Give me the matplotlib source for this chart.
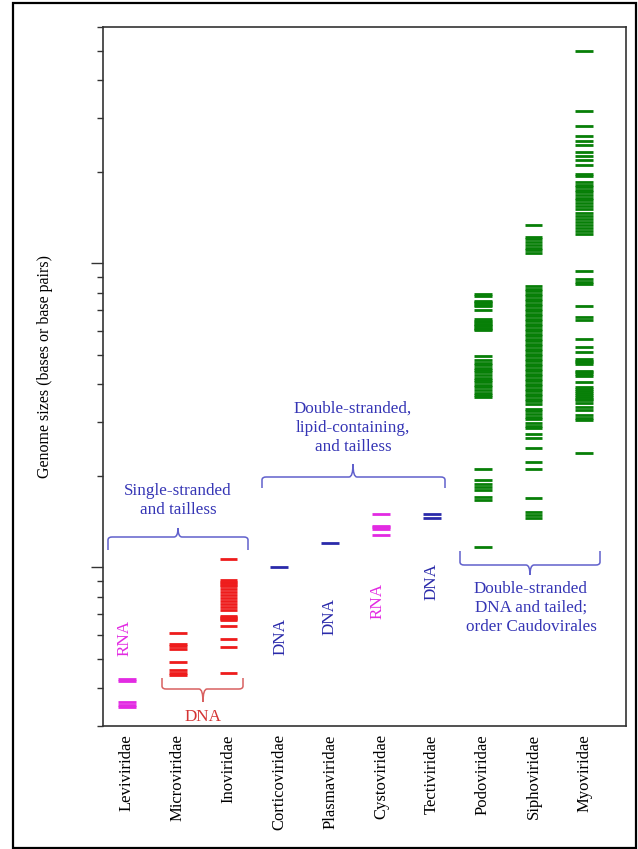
import numpy as np
import matplotlib
matplotlib.use('Agg')
import matplotlib.pyplot as plt
from matplotlib.path import Path
from matplotlib.patches import PathPatch, Rectangle
from matplotlib.transforms import Affine2D
from matplotlib.ticker import NullFormatter

plt.rcParams['font.family'] = ['Liberation Serif', 'DejaVu Serif']

families = ["Leviviridae", "Microviridae", "Inoviridae", "Corticoviridae", "Plasmaviridae",
            "Cystoviridae", "Tectiviridae", "Podoviridae", "Siphoviridae", "Myoviridae"]

# genome sizes in kb
levi = [4.28, 4.22, 3.60, 3.53, 3.46]
micro = [6.07, 5.60, 5.49, 5.38, 4.87, 4.57, 4.49, 4.41]
ino = [10.62, 9.06, 8.95, 8.85, 8.75, 8.66, 8.47, 8.28, 8.09, 7.91, 7.73, 7.56, 7.39,
       7.22, 6.90, 6.85, 6.80, 6.75, 6.70, 6.40, 5.80, 5.46, 4.48]
cortico = [10.04]
plasma = [11.96]
cysto = [15.0, 13.7, 13.5, 13.3, 12.75]
tecti = [14.9, 14.5]
podo = [79.4, 77.8, 75.1, 74.4, 73.7, 72.9, 72.3, 70.0, 65.3, 64.6, 64.0, 63.3, 62.7,
        62.0, 61.4, 60.8, 60.2, 49.5, 48.0, 47.1, 46.2, 45.3, 44.5, 43.7, 42.8, 42.0,
        41.3, 40.5, 39.7, 39.0, 38.3, 37.5, 36.8, 36.2, 21.1, 19.3, 18.8, 18.4, 18.0,
        17.0, 16.6, 11.66]
sipho = [134.0, 122.0, 119.7, 117.3, 114.9, 112.6, 110.4, 108.2,
         83.9, 82.3, 80.8, 79.3, 77.8, 76.3, 74.9, 73.5, 72.1, 70.8, 69.4, 68.1, 66.9,
         65.6, 64.4, 63.2, 62.0, 60.8, 59.7, 58.6, 57.5, 56.4, 55.3, 54.3, 53.3, 52.3,
         51.3, 50.3, 49.4, 48.5, 47.6, 46.7, 45.8, 44.9, 44.1, 43.3, 42.5, 41.7, 40.9,
         40.1, 39.4, 38.6, 37.9, 37.2, 36.5, 35.8, 35.1, 34.5,
         33.2, 32.6, 31.9, 31.2, 30.6, 29.8, 29.1, 28.6, 27.4, 26.5, 24.6, 22.1, 21.1,
         16.9, 15.2, 14.8, 14.5]
myo = [498.0, 317.0, 282.0, 262.0, 253.0, 244.0, 233.0, 225.0, 218.0, 211.0, 196.0,
       193.0, 185.0, 181.0, 178.0, 174.0, 171.0, 167.5, 164.0, 161.0, 158.0, 154.5,
       151.0, 146.0, 143.0, 139.5, 136.5, 133.5, 130.4, 127.4, 125.2, 94.4, 88.4, 86.6,
       85.1, 72.4, 66.3, 64.9, 56.4, 53.1, 51.1, 48.3, 47.7, 47.2, 46.6, 44.3, 43.7,
       43.2, 42.6, 40.5, 39.2, 38.6, 38.0, 37.4, 36.9, 36.3, 35.8, 35.4, 34.6, 33.6,
       32.8, 31.6, 30.9, 30.5, 23.8]

series = [levi, micro, ino, cortico, plasma, cysto, tecti, podo, sipho, myo]

MAG, RED, BLUE, GREEN = '#e22ae2', '#ee1c1c', '#2a2aaa', '#077f07'
colors = [MAG, RED, RED, BLUE, BLUE, MAG, BLUE, GREEN, GREEN, GREEN]
TXT_BLUE, BR_BLUE = '#3535b5', '#6060cc'
TXT_RED, BR_RED = '#d43434', '#d86060'

W, H = 638, 849
fig = plt.figure(figsize=(W / 100, H / 100), dpi=100)
ax = fig.add_axes([103 / W, 1 - 726 / H, (626 - 103) / W, (726 - 26.7) / H])
# pixel transform, origin top-left
pix = Affine2D().scale(1 / W, -1 / H).translate(0, 1) + fig.transFigure

for i, (vals, c) in enumerate(zip(series, colors)):
    ax.hlines(np.array(vals) * 1000, i - 0.175, i + 0.175, color=c, lw=2.0)

ax.set_yscale('log')
ax.set_ylim(3000, 6e5)
ax.set_xlim(-0.47, 9.82)
ax.set_xticks(range(len(families)))
ax.set_xticklabels(families, rotation=90, fontsize=12, va='top')
ax.tick_params(axis='x', length=0, pad=6)
ax.tick_params(axis='y', which='major', direction='out', length=8.5, width=1, color='#333333')
ax.tick_params(axis='y', which='minor', direction='out', length=4.5, width=1, color='#333333')
ax.yaxis.set_major_formatter(NullFormatter())
ax.yaxis.set_minor_formatter(NullFormatter())
for s in ax.spines.values():
    s.set_color('#333333')
    s.set_linewidth(1.2)

fig.text(45, 367, "Genome sizes (bases or base pairs)", transform=pix, rotation=90,
         ha='center', va='center', fontsize=11.5)


def brace(x0, x1, ybar, hook, tip, color, xc=None):
    # hook/tip: pixel offsets (positive = downwards)
    xc = (x0 + x1) / 2 if xc is None else xc
    sh = np.sign(hook) * 3
    verts = [(x0, ybar + hook), (x0, ybar + sh), (x0, ybar), (x0 + 4, ybar),
             (xc - 4, ybar), (xc, ybar), (xc, ybar + tip),
             (xc, ybar + tip), (xc, ybar), (xc + 4, ybar),
             (x1 - 4, ybar), (x1, ybar), (x1, ybar + sh), (x1, ybar + hook)]
    codes = [Path.MOVETO, Path.LINETO, Path.CURVE3, Path.CURVE3,
             Path.LINETO, Path.CURVE3, Path.CURVE3,
             Path.MOVETO, Path.CURVE3, Path.CURVE3,
             Path.LINETO, Path.CURVE3, Path.CURVE3, Path.LINETO]
    fig.add_artist(PathPatch(Path(verts, codes), transform=pix, fill=False,
                             edgecolor=color, lw=1.1))


brace(108, 248, 537, 13, -9, BR_BLUE, xc=178)
fig.text(178, 501, "Single-stranded\nand tailless", transform=pix, ha='center', va='center',
         fontsize=12.3, color=TXT_BLUE, linespacing=1.25)

brace(262, 445, 477, 11, -13, BR_BLUE, xc=353)
fig.text(353, 428, "Double-stranded,\nlipid-containing,\nand tailless", transform=pix,
         ha='center', va='center', fontsize=12.3, color=TXT_BLUE, linespacing=1.25)

brace(460, 600, 565, -14, 10, BR_BLUE, xc=530)
fig.text(531, 608, "Double-stranded\nDNA and tailed;\norder Caudovirales", transform=pix,
         ha='center', va='center', fontsize=12.3, color=TXT_BLUE, linespacing=1.25)

brace(162, 243, 689, -11, 13, BR_RED, xc=203)
fig.text(203, 717, "DNA", transform=pix, ha='center', va='center', fontsize=12.3, color=TXT_RED)

for x, y, s, c in [(125, 638, "RNA", MAG), (281, 637, "DNA", BLUE), (330, 617, "DNA", BLUE),
                   (378, 601, "RNA", MAG), (432, 582, "DNA", BLUE)]:
    fig.text(x, y, s, transform=pix, rotation=90, ha='center', va='center',
             fontsize=12.3, color=c)

fig.add_artist(Rectangle((13, 3), 623, 845, transform=pix, fill=False,
                         edgecolor='black', lw=1.6))

fig.savefig('out.png', dpi=100)
